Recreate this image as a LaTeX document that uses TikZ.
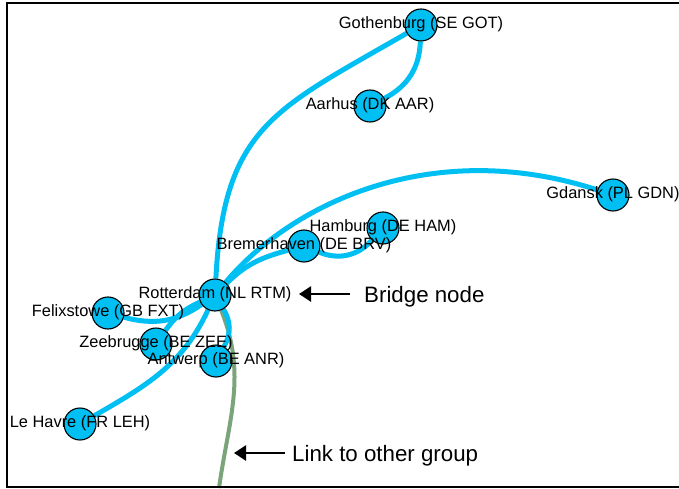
\documentclass[tikz,border=0pt]{standalone}
\usepackage{fontspec}
\setmainfont{Liberation Sans}
\usetikzlibrary{arrows.meta,backgrounds}
\definecolor{portblue}{RGB}{0,191,243}
\definecolor{linkgreen}{RGB}{122,164,122}
\tikzset{x=1pt, y=1pt,
  port/.style={circle, draw=black, line width=1.1pt, fill=portblue, minimum size=32pt, inner sep=0pt},
  portname/.style={font=\fontsize{16.4}{18}\selectfont, inner sep=0pt, text height=11.7pt, text depth=0pt, yshift=2pt},
  route/.style={draw=portblue, line width=5pt},
  link/.style={draw=linkgreen, line width=4pt},
  note/.style={font=\fontsize{22.3}{26}\selectfont, inner sep=0pt, text height=16pt, text depth=0pt, anchor=west},
  pointer/.style={-{Triangle[length=12pt,width=15pt]}, line width=2.4pt}}

\begin{document}
\begin{tikzpicture}
                \useasboundingbox (0,0) rectangle (679,488);
                \draw[line width=2.4pt] (679,485) -- (7,485) -- (7,1) -- (679,1);
                \node (GOT) [port] at (421,463) {};
                \node (AAR) [port] at (370,382) {};
                \node (GDN) [port] at (613,293) {};
                \node (HAM) [port] at (383,260) {};
                \node (BRV) [port] at (304,242) {};
                \node (RTM) [port] at (215,193) {};
                \node (FXT) [port] at (108,175) {};
                \node (ZEE) [port] at (156,144) {};
                \node (ANR) [port] at (216,127) {};
                \node (LEH) [port] at (80,64) {};
                \coordinate (OTHER) at (219,0);
                \begin{scope}[on background layer]
                \draw[link] (RTM) to[out=-68,in=82] (OTHER);
                \draw[route] (RTM) to[out=87,in=210,looseness=1.25] (GOT);
                \draw[route] (GOT) to[bend left=30] (AAR);
                \draw[route] (RTM) to[out=50,in=162,out looseness=0.7,in looseness=1.15] (GDN);
                \draw[route] (RTM) to[out=45,in=195] (BRV);
                \draw[route] (BRV) to[bend right=35] (HAM);
                \draw[route] (FXT) to[out=-15,in=215] (RTM);
                \draw[route] (ZEE) to[out=55,in=205] (RTM);
                \draw[route] (RTM) to[bend left=30] (ANR);
                \draw[route] (RTM) to[out=-115,in=30] (LEH);
                \end{scope}
                \node (GOTname) [portname] at (GOT) {Gothenburg (SE GOT)};
                \node (AARname) [portname] at (AAR) {Aarhus (DK AAR)};
                \node (GDNname) [portname] at (GDN) {Gdansk (PL GDN)};
                \node (HAMname) [portname] at (HAM) {Hamburg (DE HAM)};
                \node (BRVname) [portname] at (BRV) {Bremerhaven (DE BRV)};
                \node (RTMname) [portname] at (RTM) {Rotterdam (NL RTM)};
                \node (FXTname) [portname] at (FXT) {Felixstowe (GB FXT)};
                \node (ZEEname) [portname] at (ZEE) {Zeebrugge (BE ZEE)};
                \node (ANRname) [portname] at (ANR) {Antwerp (BE ANR)};
                \node (LEHname) [portname] at (LEH) {Le Havre (FR LEH)};
                \node (BRIDGE) [note] at (364,194) {Bridge node};
                \coordinate (BRIDGETIP) at (299,194);
                \draw[pointer, shorten <=14pt] (BRIDGE) -- (BRIDGETIP);
                \node (LINK) [note] at (292,35) {Link to other group};
                \coordinate (LINKTIP) at (234,35);
                \draw[pointer, shorten <=7pt] (LINK) -- (LINKTIP);
              \end{tikzpicture}
\end{document}
